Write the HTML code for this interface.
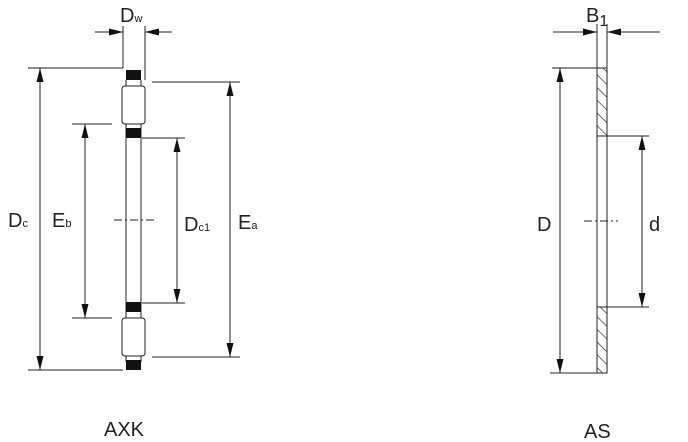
<!DOCTYPE html>
<html><head><meta charset="utf-8"><style>html,body{margin:0;padding:0;background:#fff}svg{display:block}</style></head><body>
<svg width="688" height="442" viewBox="0 0 688 442" xmlns="http://www.w3.org/2000/svg" font-family="Liberation Sans, sans-serif">
<defs>
<marker id="a" viewBox="0 0 14 7" refX="14" refY="3.5" markerWidth="14" markerHeight="7" orient="auto-start-reverse" markerUnits="userSpaceOnUse"><path d="M0,0L14,3.5L0,7z" fill="#111"/></marker>
<pattern id="h" width="9" height="9" patternUnits="userSpaceOnUse" patternTransform="rotate(-45)"><line x1="0" y1="0" x2="0" y2="9" stroke="#222" stroke-width="1.3"/></pattern>
</defs>
<g stroke="#222" stroke-width="1" fill="none">
<!-- AXK -->
<line x1="123" y1="26" x2="123" y2="68"/><line x1="145" y1="26" x2="145" y2="80"/>
<line x1="95" y1="32" x2="123" y2="32" marker-end="url(#a)"/><line x1="172" y1="32" x2="145" y2="32" marker-end="url(#a)"/>
<line x1="28" y1="68" x2="123" y2="68"/><line x1="28" y1="370" x2="123" y2="370"/>
<line x1="40" y1="68" x2="40" y2="370" marker-start="url(#a)" marker-end="url(#a)"/>
<line x1="152" y1="82" x2="240" y2="82"/><line x1="152" y1="357" x2="240" y2="357"/>
<line x1="230" y1="82" x2="230" y2="357" marker-start="url(#a)" marker-end="url(#a)"/>
<line x1="72" y1="124" x2="112" y2="124"/><line x1="72" y1="318" x2="112" y2="318"/>
<line x1="85" y1="124" x2="85" y2="318" marker-start="url(#a)" marker-end="url(#a)"/>
<line x1="142" y1="138" x2="185" y2="138"/><line x1="142" y1="303" x2="185" y2="303"/>
<line x1="177" y1="138" x2="177" y2="303" marker-start="url(#a)" marker-end="url(#a)"/>
<line x1="126" y1="80" x2="126" y2="362"/><line x1="141" y1="80" x2="141" y2="362"/>
<rect x="122" y="86" width="23" height="38" rx="3" fill="#fff"/>
<rect x="122" y="318" width="23" height="38" rx="3" fill="#fff"/>
<line x1="114" y1="220" x2="154" y2="220" stroke-dasharray="8,3,2,3"/>
<!-- AS -->
<line x1="597" y1="24" x2="597" y2="68"/><line x1="607" y1="24" x2="607" y2="68"/>
<line x1="553" y1="32" x2="597" y2="32" marker-end="url(#a)"/><line x1="660" y1="32" x2="607" y2="32" marker-end="url(#a)"/>
<rect x="597" y="68" width="10" height="305"/>
<rect x="597" y="68" width="10" height="68" fill="url(#h)"/>
<rect x="597" y="307" width="10" height="66" fill="url(#h)"/>
<line x1="552" y1="68" x2="597" y2="68"/><line x1="550" y1="373" x2="597" y2="373"/>
<line x1="560" y1="68" x2="560" y2="373" marker-start="url(#a)" marker-end="url(#a)"/>
<line x1="607" y1="136" x2="649" y2="136"/><line x1="607" y1="307" x2="649" y2="307"/>
<line x1="642" y1="136" x2="642" y2="307" marker-start="url(#a)" marker-end="url(#a)"/>
<line x1="584" y1="221" x2="618" y2="221" stroke-dasharray="8,3,2,3"/>
</g>
<g fill="#111">
<rect x="126" y="70" width="15" height="10"/><rect x="126" y="128" width="15" height="10"/>
<rect x="126" y="302" width="15" height="10"/><rect x="126" y="360" width="15" height="10"/>
</g>
<g fill="#222">
<text x="120" y="22" font-size="20">D<tspan font-size="11">w</tspan></text>
<text x="8" y="227" font-size="20">D<tspan font-size="11">c</tspan></text>
<text x="52" y="227" font-size="20">E<tspan font-size="11">b</tspan></text>
<text x="184" y="231" font-size="20">D<tspan font-size="11">c1</tspan></text>
<text x="238" y="229" font-size="20">E<tspan font-size="11">a</tspan></text>
<text x="104" y="436" font-size="20">AXK</text>
<text x="586" y="22" font-size="20">B<tspan font-size="16" dy="4">1</tspan></text>
<text x="537" y="231" font-size="20">D</text>
<text x="649" y="231" font-size="20">d</text>
<text x="584" y="438" font-size="20">AS</text>
</g>
</svg>
</body></html>
